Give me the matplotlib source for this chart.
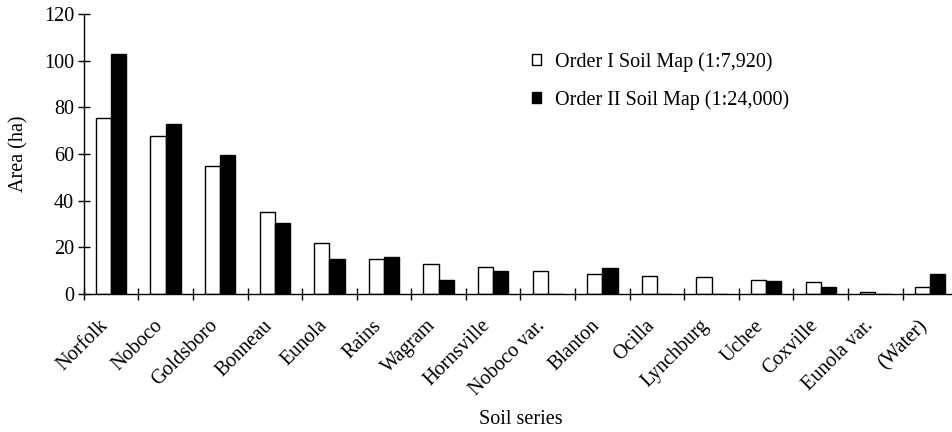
import matplotlib
matplotlib.use("Agg")
import matplotlib.pyplot as plt
import matplotlib.transforms as mtransforms
import numpy as np

plt.rcParams['font.family'] = ['Liberation Serif', 'DejaVu Serif']

soil_series = ["Norfolk", "Noboco", "Goldsboro", "Bonneau", "Eunola", "Rains",
               "Wagram", "Hornsville", "Noboco var.", "Blanton", "Ocilla",
               "Lynchburg", "Uchee", "Coxville", "Eunola var.", "(Water)"]
order1_area = [75.3, 67.7, 55.0, 35.0, 22.0, 15.2, 12.7, 11.4, 9.7, 8.6, 7.6,
               7.1, 5.9, 5.0, 0.9, 3.0]
order2_area = [102.9, 72.9, 59.7, 30.4, 15.1, 15.7, 6.0, 9.9, 0, 11.1, 0,
               0, 5.6, 3.0, 0, 8.7]
labels = ["Order I Soil Map (1:7,920)", "Order II Soil Map (1:24,000)"]

fs = 14.5

fig = plt.figure(figsize=(9.53, 4.32), dpi=100)
ax = fig.add_axes([83.7 / 953, 1 - 294 / 432, 873.6 / 953, 280 / 432])

x = np.arange(len(soil_series))
w = 0.278
ax.bar(x - w / 2, order1_area, w, color="white", edgecolor="black", lw=1.0,
       label=labels[0])
ax.bar(x + w / 2, order2_area, w, color="black", edgecolor="black", lw=1.0,
       label=labels[1])

ax.set_xlim(-0.5, len(soil_series) - 0.5)
ax.set_ylim(0, 120)
ax.set_yticks(range(0, 121, 20))
ax.set_xticks(x - 0.5, minor=False)
ax.set_xticklabels([])
ax.set_xticks(x, minor=True)
ax.set_xticklabels(soil_series, minor=True, rotation=45, ha="right",
                   va="top", rotation_mode="anchor", fontsize=fs)
ax.tick_params(axis="x", which="minor", length=0, pad=16)
ax.tick_params(axis="x", which="major", direction="inout", length=9, width=1)
ax.tick_params(axis="y", direction="inout", length=8, width=1, labelsize=fs,
               pad=3)

# nudge rotated labels left a bit
shift = mtransforms.ScaledTranslation(-12 / 100, 0, fig.dpi_scale_trans)
for lab in ax.xaxis.get_minorticklabels():
    lab.set_transform(lab.get_transform() + shift)

for s in ["top", "right"]:
    ax.spines[s].set_visible(False)
for s in ["left", "bottom"]:
    ax.spines[s].set_linewidth(1)

ax.set_ylabel("Area (ha)", fontsize=fs)
ax.yaxis.set_label_coords(-(83.7 - 19) / 873.6, 0.5)
ax.yaxis.label.set_va("center")
ax.set_xlabel("Soil series", fontsize=fs)
ax.xaxis.set_label_coords(0.5, -(420 - 294) / 280)
ax.xaxis.label.set_va("center")

ax.legend(loc="upper left", bbox_to_anchor=((532 - 83.7) / 873.6, 1 - (52 - 14) / 280),
          frameon=False, fontsize=fs, borderaxespad=0, borderpad=0,
          handlelength=0.45, handleheight=0.45, handletextpad=0.7,
          labelspacing=0.9)

fig.savefig("out.png", dpi=100)
